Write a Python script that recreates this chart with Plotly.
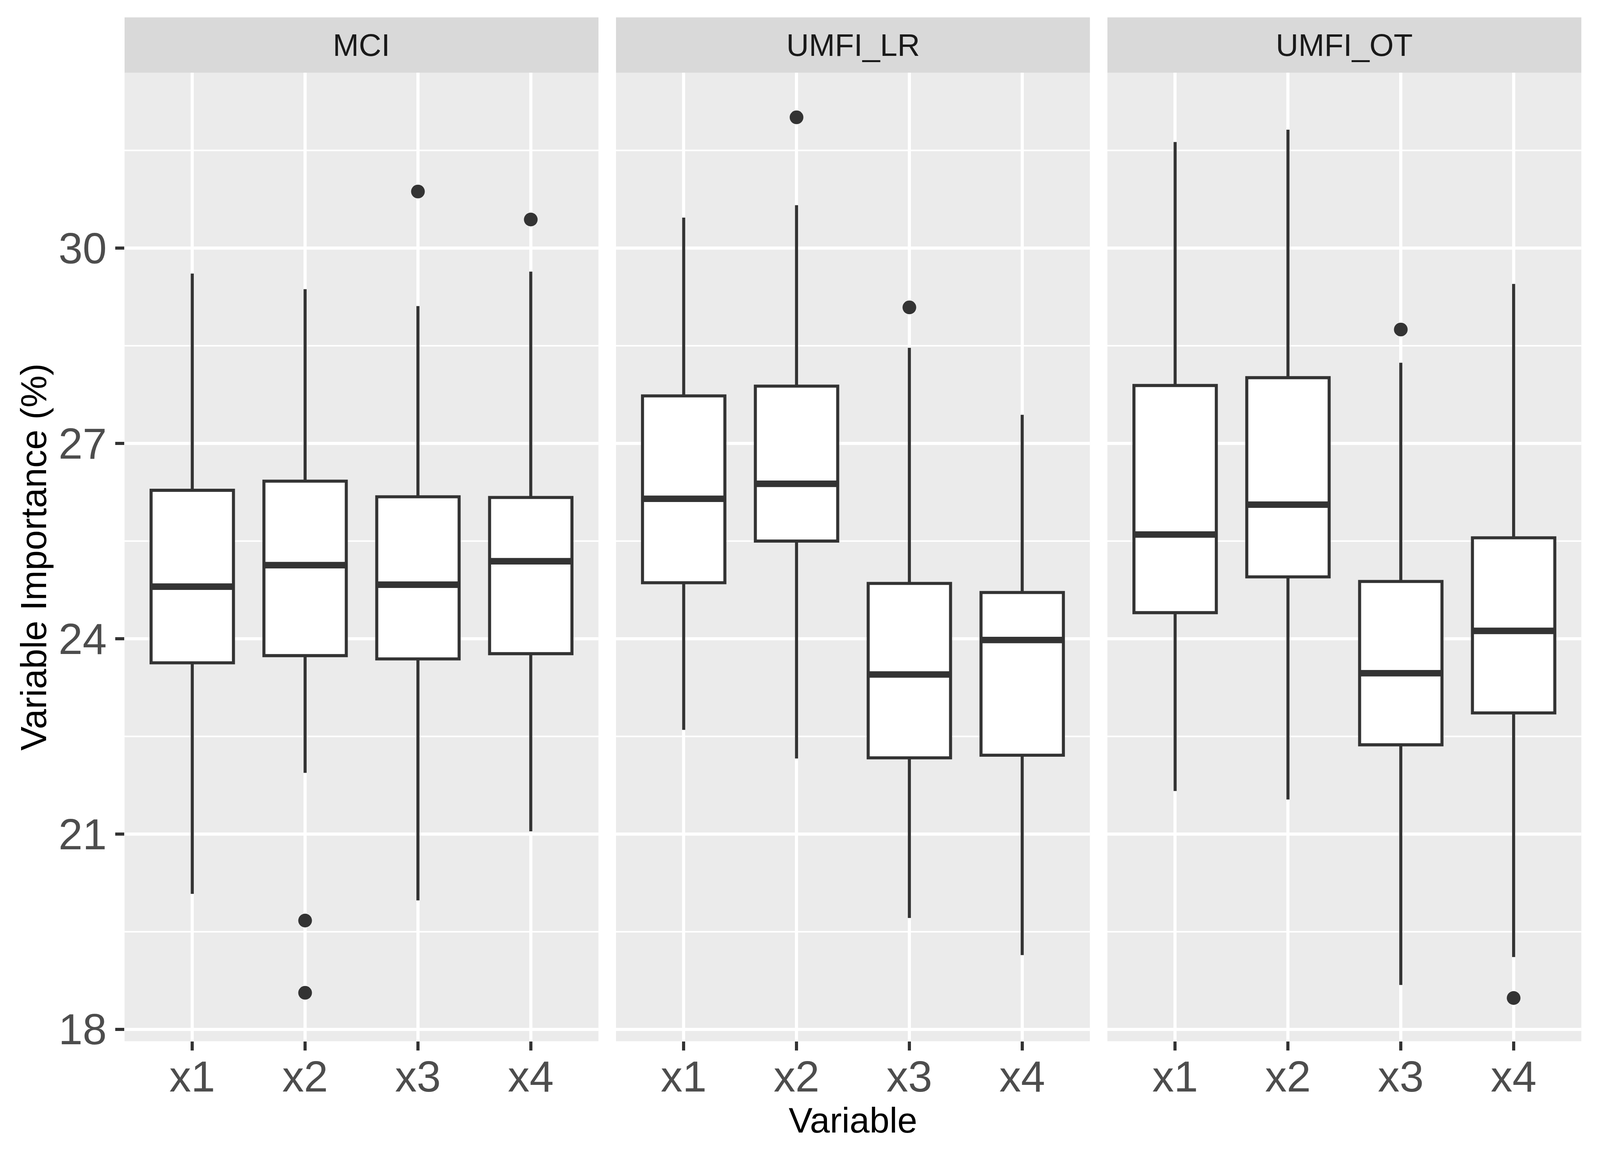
"""Facetted boxplots of variable importance (MCI / UMFI_LR / UMFI_OT), ggplot-like look."""

import plotly.graph_objects as go

# ---- data ----
methods = ["MCI", "UMFI_LR", "UMFI_OT"]
variables = ["x1", "x2", "x3", "x4"]

mci_lower = [20.08, 21.94, 19.98, 21.04]
mci_q1 = [23.63, 23.74, 23.69, 23.77]
mci_median = [24.80, 25.13, 24.83, 25.19]
mci_q3 = [26.28, 26.42, 26.18, 26.17]
mci_upper = [29.61, 29.37, 29.11, 29.64]
mci_outliers = {"x2": [19.67, 18.56], "x3": [30.87], "x4": [30.44]}

lr_lower = [22.60, 22.16, 19.71, 19.14]
lr_q1 = [24.86, 25.50, 22.17, 22.21]
lr_median = [26.15, 26.38, 23.45, 23.98]
lr_q3 = [27.73, 27.88, 24.85, 24.71]
lr_upper = [30.47, 30.66, 28.47, 27.44]
lr_outliers = {"x2": [32.01], "x3": [29.09]}

ot_lower = [21.66, 21.53, 18.68, 19.11]
ot_q1 = [24.40, 24.95, 22.37, 22.86]
ot_median = [25.60, 26.06, 23.47, 24.12]
ot_q3 = [27.89, 28.01, 24.88, 25.55]
ot_upper = [31.63, 31.82, 28.24, 29.45]
ot_outliers = {"x3": [28.75], "x4": [18.48]}

y_ticks = [18, 21, 24, 27, 30]
y_minor = [19.5, 22.5, 25.5, 28.5, 31.5]

# ---- page geometry ----
# the figure fills the viewport (100vw x 100vh); positions below are given in
# pixels of the 4200x3000 target picture and converted to paper fractions
IMG_W, IMG_H = 4200, 3000
K = 1.026            # picture px per css px
VW, VH = 4094, 2969  # viewport, css px
BODY = 8             # default body margin, css px


def fx(px):
    return px / IMG_W - BODY / VW


def fy(px):
    return 1 - px / IMG_H + BODY / VH


def sz(px):
    return px / K


INK = "#333333"
PANEL_BG = "#EBEBEB"
STRIP_BG = "#D9D9D9"
FONT = "Liberation Sans, Arial, sans-serif"
BOX_W = 0.73

PANEL_X = [(327, 1571), (1617, 2861), (2907, 4151)]
Y_DOM = [fy(2694), fy(188)]
STRIP_TOP = fy(45)

panels = [
    (mci_lower, mci_q1, mci_median, mci_q3, mci_upper, mci_outliers),
    (lr_lower, lr_q1, lr_median, lr_q3, lr_upper, lr_outliers),
    (ot_lower, ot_q1, ot_median, ot_q3, ot_upper, ot_outliers),
]

pos = list(range(1, len(variables) + 1))

fig = go.Figure()

for i, (lo, q1, med, q3, hi, outl) in enumerate(panels):
    suffix = "" if i == 0 else str(i + 1)
    xa, ya = "x" + suffix, "y" + suffix

    fig.add_trace(go.Box(
        x=pos, q1=q1, median=med, q3=q3, lowerfence=lo, upperfence=hi,
        orientation="v", boxpoints=False, width=BOX_W, whiskerwidth=0,
        fillcolor="white", line=dict(color=INK, width=sz(8)),
        showlegend=False, xaxis=xa, yaxis=ya,
    ))

    # thicker median bar, as ggplot draws it
    mx, my = [], []
    for p, m in zip(pos, med):
        mx += [p - BOX_W / 2, p + BOX_W / 2, None]
        my += [m, m, None]
    fig.add_trace(go.Scatter(
        x=mx, y=my, mode="lines", line=dict(color=INK, width=sz(17)),
        showlegend=False, hoverinfo="skip", xaxis=xa, yaxis=ya,
    ))

    ox, oy = [], []
    for v, vals in outl.items():
        for val in vals:
            ox.append(pos[variables.index(v)])
            oy.append(val)
    fig.add_trace(go.Scatter(
        x=ox, y=oy, mode="markers",
        marker=dict(color=INK, size=sz(36), line=dict(width=0)),
        showlegend=False, xaxis=xa, yaxis=ya,
    ))

layout = dict(
    autosize=True,
    margin=dict(l=0, r=0, t=0, b=0, pad=0),
    paper_bgcolor="white",
    plot_bgcolor=PANEL_BG,
    font=dict(family=FONT),
    shapes=[],
    annotations=[],
)

tick_font = dict(size=sz(114), color="#4D4D4D", family=FONT)

for i, (x0, x1) in enumerate(PANEL_X):
    suffix = "" if i == 0 else str(i + 1)
    layout["xaxis" + suffix] = dict(
        domain=[fx(x0), fx(x1)], range=[0.4, 4.6],
        tickvals=pos, ticktext=variables,
        showgrid=True, gridcolor="white", gridwidth=sz(8),
        zeroline=False, showline=False,
        ticks="outside", ticklen=sz(23), tickwidth=sz(8), tickcolor=INK,
        tickfont=tick_font, ticklabelstandoff=-28,
        anchor="y" + suffix, fixedrange=True,
    )
    yax = dict(
        domain=Y_DOM, range=[17.816, 32.696],
        tickvals=y_ticks,
        showgrid=True, gridcolor="white", gridwidth=sz(8),
        minor=dict(tickvals=y_minor, showgrid=True, gridcolor="white", gridwidth=sz(4)),
        zeroline=False, showline=False,
        anchor="x" + suffix, fixedrange=True,
    )
    if i == 0:
        yax.update(ticks="outside", ticklen=sz(23), tickwidth=sz(8), tickcolor=INK,
                   tickfont=tick_font)
    else:
        yax.update(matches="y", showticklabels=False, ticks="")
    layout["yaxis" + suffix] = yax

    # facet strip
    layout["shapes"].append(dict(
        type="rect", xref="paper", yref="paper",
        x0=fx(x0), x1=fx(x1), y0=Y_DOM[1], y1=STRIP_TOP,
        fillcolor=STRIP_BG, line=dict(width=0), layer="below",
    ))
    layout["annotations"].append(dict(
        text=methods[i], xref="paper", yref="paper",
        x=fx((x0 + x1) / 2), y=(Y_DOM[1] + STRIP_TOP) / 2,
        xanchor="center", yanchor="middle", showarrow=False,
        font=dict(size=sz(82), color="#1A1A1A", family=FONT),
    ))

layout["annotations"] += [
    dict(text="Variable Importance (%)", xref="paper", yref="paper",
         x=fx(88), y=(Y_DOM[0] + Y_DOM[1]) / 2, textangle=-90,
         xanchor="center", yanchor="middle", showarrow=False,
         font=dict(size=sz(95), color="black", family=FONT)),
    dict(text="Variable", xref="paper", yref="paper",
         x=fx((PANEL_X[0][0] + PANEL_X[2][1]) / 2), y=fy(2898),
         xanchor="center", yanchor="middle", showarrow=False,
         font=dict(size=sz(94), color="black", family=FONT)),
]

fig.update_layout(**layout)
fig.write_html("out.html", default_width="100vw", default_height="100vh")
